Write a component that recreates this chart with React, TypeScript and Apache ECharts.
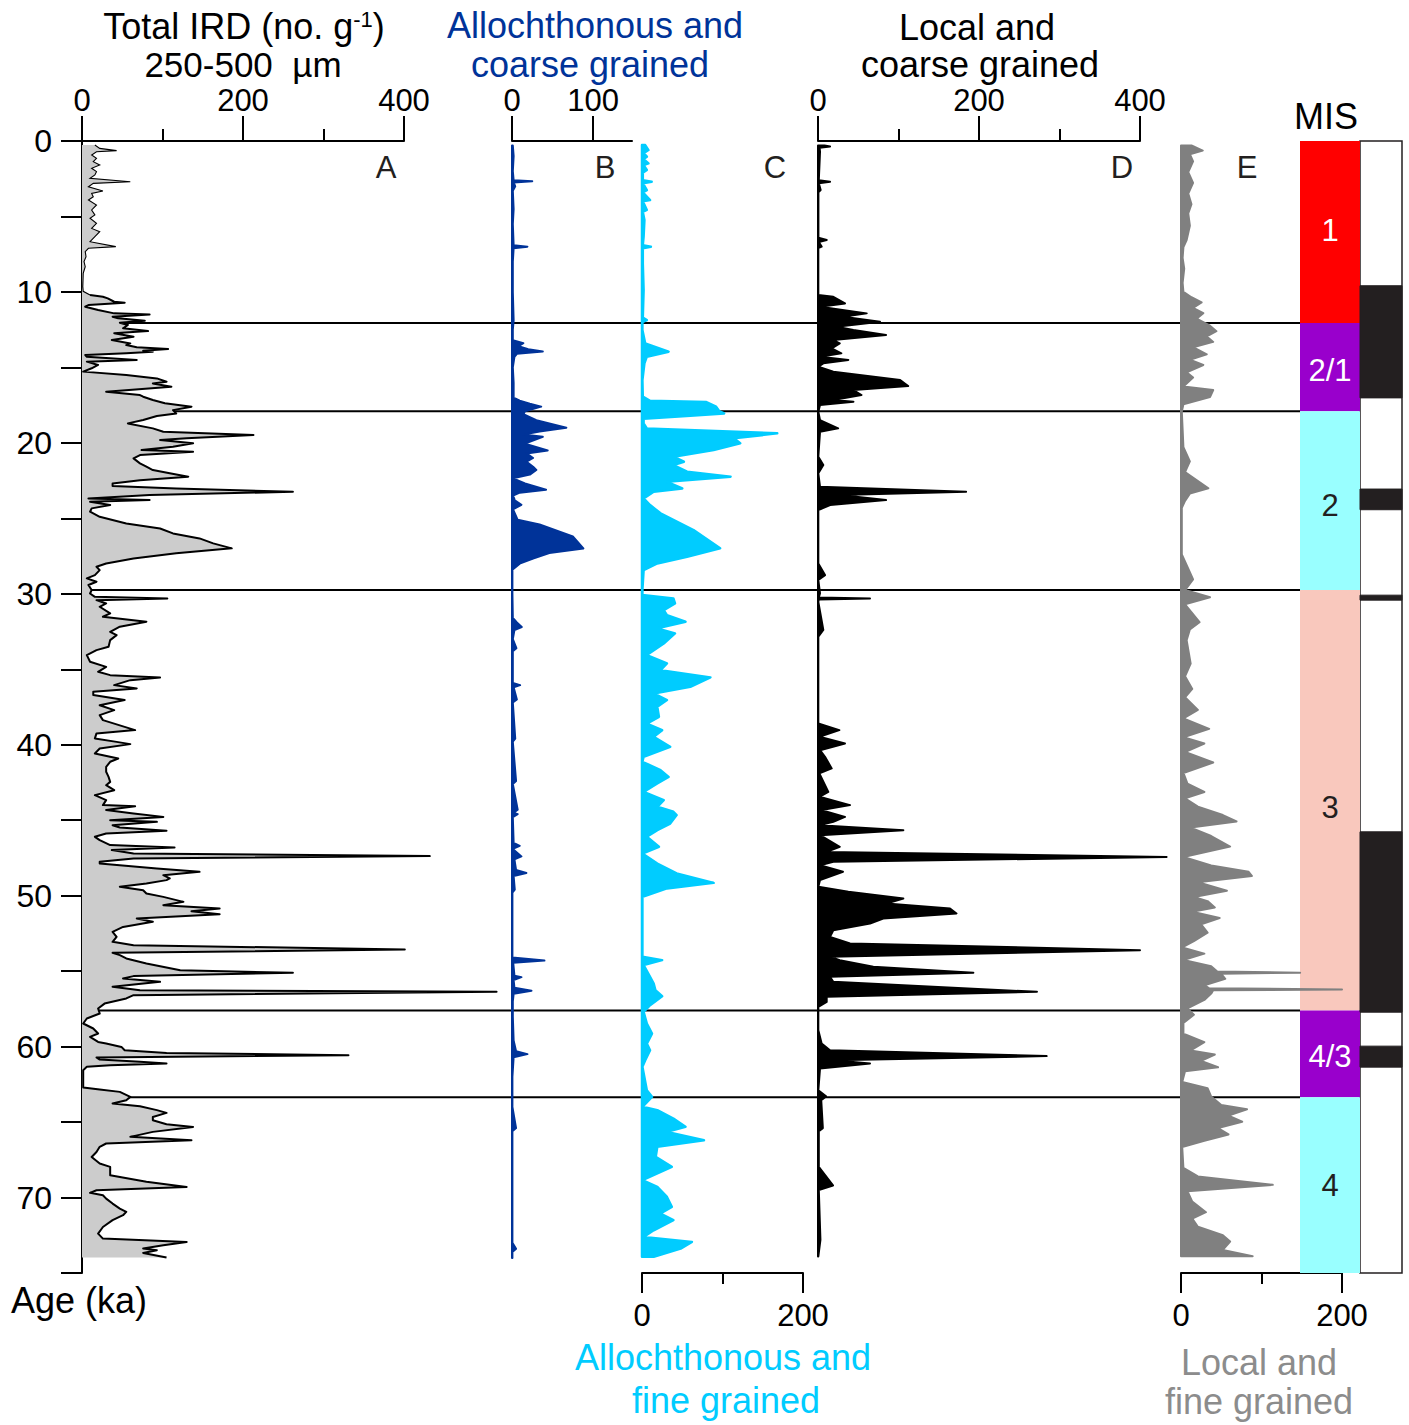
import React, { useEffect, useRef } from 'react';
import * as echarts from 'echarts';

const FONT = '"Liberation Sans", Arial, Helvetica, sans-serif';

// ---- Panel A: Total IRD (no. g-1), 250-500 µm ----
const ageA = [0.27,0.49,0.64,0.71,0.93,1.15,1.37,1.59,1.81,2.03,2.25,2.47,2.70,2.81,3.03,3.31,3.47,3.69,3.91,4.24,4.57,4.90,5.12,5.46,5.79,6.01,6.34,6.67,7.00,7.11,7.33,7.66,7.99,8.33,8.77,9.65,9.96,10.21,10.32,10.43,10.65,10.71,10.87,10.98,11.20,11.42,11.49,11.64,11.75,11.91,12.04,12.19,12.41,12.59,12.74,12.97,13.19,13.41,13.52,13.67,13.78,13.89,13.96,14.07,14.18,14.29,14.51,14.62,14.84,15.06,15.28,15.51,15.73,15.95,16.06,16.28,16.61,16.83,16.94,17.16,17.38,17.60,17.83,18.05,18.22,18.49,18.71,19.04,19.26,19.48,19.70,19.81,20.03,20.26,20.48,20.59,20.81,21.03,21.36,21.58,21.80,22.02,22.24,22.47,22.69,22.86,23.02,23.24,23.46,23.68,23.79,23.90,24.12,24.34,24.56,24.90,25.34,25.67,26.00,26.33,26.66,26.99,27.32,27.66,27.99,28.21,28.43,28.76,28.98,29.20,29.42,29.75,29.98,30.20,30.31,30.42,30.64,30.86,31.30,31.52,31.85,32.18,32.52,32.74,33.07,33.51,33.73,34.06,34.50,34.84,35.17,35.39,35.54,35.72,36.05,36.27,36.49,36.71,37.04,37.38,37.71,38.04,38.37,39.03,39.25,39.58,39.81,39.96,40.25,40.58,40.91,41.13,41.46,41.79,42.13,42.46,42.68,43.01,43.34,43.67,44.00,44.07,44.33,44.55,44.78,45.00,45.11,45.33,45.48,45.70,45.88,46.10,46.32,46.65,46.81,46.98,47.21,47.38,47.54,47.76,47.87,48.20,48.42,48.64,48.86,48.97,49.19,49.41,49.64,49.86,50.08,50.41,50.63,50.85,51.03,51.23,51.51,51.73,52.07,52.40,52.73,53.06,53.28,53.57,53.79,53.94,54.16,54.50,54.94,55.11,55.33,55.49,55.71,56.04,56.26,56.37,56.59,56.81,57.15,57.48,57.81,58.14,58.47,58.80,59.13,59.36,59.69,59.80,60.02,60.24,60.42,60.57,60.72,60.86,61.01,61.12,61.23,61.34,61.56,62.23,62.71,62.85,63.00,63.33,63.55,63.77,63.95,64.21,64.39,64.66,64.88,65.14,65.32,65.65,65.98,66.20,66.42,66.64,66.98,67.31,67.75,67.97,68.52,68.96,69.30,69.52,69.69,69.85,70.07,70.40,70.73,70.95,71.17,71.50,71.95,72.39,72.72,72.94,73.16,73.38,73.49,73.67,73.98];
const valA = [16,22,43,18,12,18,14,22,12,18,16,10,60,14,8,26,12,14,8,18,12,16,10,18,12,22,16,10,42,8,4,5,2.5,4,1.5,1,1.5,10,26,32,40,53,8,4,20,40,84,38,45,78,47,57,51,82,40,64,37,60,55,68,107,76,88,55,4,6,68,6,20,12,1.5,55,93,105,88,111,30,72,76,88,103,136,113,117,93,76,57,88,101,213,130,97,138,113,74,138,72,64,72,80,88,109,132,72,38,38,117,262,84,8,84,10,35,12,10,22,55,97,113,146,163,186,117,64,30,18,22,16,6,18,8,12,10,16,106,18,30,22,35,26,80,47,35,43,35,33,18,6,10,30,20,35,97,60,40,68,14,14,53,22,40,22,26,66,18,16,43,60,22,16,45,35,30,30,33,35,30,40,16,30,26,66,30,64,101,35,93,38,47,105,30,16,22,35,115,37,64,432,64,22,22,93,146,101,109,105,80,47,76,80,101,126,101,171,136,171,68,88,51,38,43,38,64,401,38,47,55,80,122,262,64,51,97,38,72,515,64,55,28,20,22,6,1.5,14,20,10,20,30,49,53,105,331,18,22,72,105,35,6,1.5,1.5,1.5,22,47,60,55,38,72,93,105,88,88,105,138,88,60,136,30,22,18,12,22,35,35,80,130,18,10,26,30,38,47,55,51,38,26,20,26,130,101,76,93,76,105];

// ---- Panel B: allochthonous, coarse grained ----
const ageB = [0.3,1.0,2.0,2.6,2.67,2.75,3.0,3.3,4.5,5.5,6.9,7.0,7.1,8.0,10.0,11.9,12.5,13.2,13.4,13.6,13.8,13.95,14.1,14.3,15.0,16.0,17.0,17.2,17.4,17.6,17.9,18.1,18.5,19.0,19.25,19.45,19.6,20.05,20.5,20.7,21.0,21.25,21.58,21.8,22.1,22.35,22.69,23.1,23.3,23.5,23.8,24.1,24.4,25.1,25.4,26.2,27.0,27.3,27.66,28.0,28.4,30.0,31.6,31.9,32.2,32.4,33.0,33.6,33.8,35.9,36.05,36.2,37.0,37.2,38.0,39.6,39.8,42.4,42.6,44.3,44.5,44.6,44.8,46.5,46.7,46.9,47.4,47.6,48.3,48.5,48.7,49.6,49.8,54.1,54.3,54.45,55.3,55.4,55.6,56.1,56.3,56.5,57.0,58.0,59.6,60.3,60.5,60.7,62.0,64.0,65.4,65.6,73.0,73.4,73.6,74.0];
const valB = [1,2,1,2,25,2,4,1,2,1,2,19,2,1,1,2,1,1,14,8,20,38,6,3,1,2,2,9.5,22,36,16,14,30,67,34,14,38,16,44,18,26,18,26,30,22,1.3,16,42,9.5,1.3,3.4,11.6,1.3,7,34,75,88,46,26,9.5,0.5,0.5,1,6,12,3,1,5.4,1,1,10,2,6,1,2,4,1,5,1,7,2,7,1,2,9.5,1,11.6,3,5,17.7,2,3.4,0.5,0.5,40,1.5,3,11.6,2,3,24,2,1,1,2,5,19,2,0.5,0.5,5,0.5,0.5,5,0.5,0.5];

// ---- Panel C: allochthonous, fine grained ----
const ageC = [0.27,0.60,0.80,1.04,1.20,1.48,1.60,1.92,2.10,2.60,2.70,2.80,3.25,3.40,3.91,4.00,4.57,4.70,5.24,6.34,6.90,7.00,7.10,8.11,9.87,11.70,11.86,12.00,12.52,13.41,13.96,14.29,14.73,15.84,16.94,17.21,17.30,17.60,17.90,18.05,18.20,18.40,18.71,19.04,19.37,19.70,20.03,20.48,20.92,21.25,21.47,21.91,22.24,22.58,23.02,23.24,23.68,24.12,24.67,25.78,26.99,27.55,27.99,28.43,29.75,30.08,30.31,30.64,31.08,31.41,31.85,32.29,32.62,33.29,34.06,34.61,35.06,35.54,36.16,36.60,37.04,37.49,38.15,38.60,39.04,39.48,40.14,40.80,41.13,41.68,42.13,42.57,43.12,43.67,44.11,44.44,44.66,45.22,45.66,46.10,46.76,47.21,47.87,48.53,49.15,49.52,49.97,50.08,54.05,54.27,54.60,55.38,55.82,56.26,56.66,57.26,57.70,58.48,59.14,59.80,60.24,60.90,61.34,62.89,63.33,63.99,64.21,64.77,65.32,65.65,66.20,66.64,67.31,67.97,68.85,69.30,69.96,70.62,71.06,71.50,72.17,72.61,72.94,73.38,73.93];
const valC = [4,8,2,6,2,8,2,6,1,1,12,1,6,1,10,1,6,1,3,2,1,11,1,1,2,1,6,0.5,0.5,4,33,6,3,0.5,1,10,80,92,96,102,60,2,2,6,168,114,122,89,39,52,39,56,110,31,50,14.5,2,10,23,64,97,56,19,2,0.5,0.5,39,41,27,31,54,19,41,27,6,31,23,85,60,14.5,31,19,21,6,25,14.5,35,2,0.5,23,33,19,2,27,19,39,43,35,19,6,21,0.5,19,43,89,31,6,0.5,0.5,25,2,10,14.5,16.6,25,10,2,6,12.4,6,10,4,0.5,6,12.4,0.5,19,39,54,31,77,19,17,37,0.5,19,31,37,23,39,14.5,2,62,48,14.5];

// ---- Panel D: local, coarse grained ----
const ageD = [0.30,0.37,0.45,0.71,2.60,2.70,2.80,3.25,3.40,6.40,6.56,6.70,7.00,7.10,8.11,10.21,10.32,10.76,10.98,11.42,11.64,11.97,12.30,12.52,12.86,13.19,13.41,13.74,14.07,14.29,14.51,14.73,14.95,15.28,15.84,16.24,16.50,16.83,17.16,17.27,17.49,17.94,18.49,19.04,19.26,20.92,21.47,22.02,22.91,23.24,23.46,23.79,24.12,24.45,27.99,28.76,29.09,29.97,30.25,30.31,30.37,30.53,32.40,32.84,38.59,39.03,39.47,39.92,40.36,40.80,41.57,41.90,43.12,43.45,44.00,44.33,44.78,45.11,45.33,45.66,45.99,46.76,47.10,47.43,47.76,47.98,48.42,48.97,49.41,49.74,50.19,50.52,50.85,51.18,51.51,51.85,52.29,52.73,53.17,53.61,54.05,54.27,54.71,55.11,55.38,55.71,56.37,56.70,57.04,57.37,58.91,59.80,60.24,60.63,60.90,61.12,61.45,62.90,63.30,63.55,65.40,65.60,67.97,69.20,69.50,72.80,73.90];
const valD = [8,15,2,2.5,1,15,1,3.3,0.5,0.5,10.8,1,4.5,0.4,0.4,0.4,19,33.5,2.5,60.5,31,77,23,44,84.5,19,27,17,29,2.5,37.7,6.6,0.4,19,102,112,44,54,19,44,2.5,0.4,2.5,25,2.5,0.4,6.6,0.4,2.5,184,27,84.5,15,0.4,0.4,8.7,0.4,2.5,1,64.6,1,0.4,6.6,0.4,0.4,26.5,1.7,33.5,2.5,8.7,17,1.7,12.8,1.7,39.8,4.5,33.5,19,1.7,106,2.5,27,10.8,433,19,2.5,31,2.5,0.4,37.7,106,85,164,172,81,64.6,19,14.9,39.8,400,14.9,27,68.7,193,14.9,19,272,10.8,10.8,0.4,0.4,4.5,14.9,284,19,64.6,2.5,0.4,10,4,6,1,1,18.6,1,3,0.4];

// ---- Panel E: local, fine grained ----
const ageE = [0.29,0.64,0.88,1.35,2.06,2.77,3.48,4.19,4.79,5.61,6.56,7.03,7.74,8.45,9.40,9.99,10.35,10.70,11.06,11.41,11.77,12.24,12.60,12.95,13.31,13.66,14.13,14.49,14.84,15.32,15.67,16.26,16.50,16.97,17.45,17.92,19.10,20.29,21.23,21.94,23.01,23.36,23.84,24.31,27.39,28.33,29.05,29.75,30.23,30.70,31.88,32.36,33.07,34.63,35.47,36.30,36.86,37.69,38.25,38.95,39.50,39.92,40.48,41.18,41.87,42.57,43.13,43.55,44.10,44.66,45.08,45.49,46.05,46.75,47.44,48.00,48.42,48.69,49.11,49.67,50.09,50.36,50.78,51.06,51.48,51.90,52.45,53.01,53.43,53.84,54.26,54.68,55.02,55.10,55.18,55.51,55.93,56.14,56.21,56.27,56.49,56.91,57.47,57.89,58.44,59.14,59.70,60.25,60.53,60.95,61.37,61.64,62.34,62.76,63.31,63.87,64.15,64.57,64.98,65.40,65.82,66.24,66.65,68.04,68.60,69.16,69.58,70.27,70.97,71.39,71.94,72.50,72.92,73.47,73.89];
const valE = [13,27,11,15,9,15,9,13,9,11,7,3,2,4,2,3,13,25.6,15,27.7,19.4,36,44,32,40,15,32,11,27.7,7,15,3,40,36,3,1,2,3,11,5,34,11,5,1,1,9,15,5,36,5,23,11,7,12,5,14,5,21,3,35,3,29,5,40,3,8,29,5,21,52,69,12,37.5,61,3,37.5,84,88,21,57,16,33,42,14,48,25,33,16,1.5,29,3,37.5,45,148,50,55,29,35,200,40,37.5,29,8,16,3,3,29,12,42,25,46,5,1.5,33,37.5,50,82,59,76,46,59,29,1.5,3,21,114,8,14,31,14,21,52,61,52,89];

// ---- Marine isotope stages ----
const misStart = [0, 12.06, 17.9, 29.75, 57.6, 63.35];
const misEnd = [12.06, 17.9, 29.75, 57.6, 63.35, 75];
const misLabel = ['1', '2/1', '2', '3', '4/3', '4'];
const misLabelAge = [5.9, 15.18, 24.12, 44.13, 60.63, 69.18];
const misColor = ['#ff0000', '#9900cc', '#99ffff', '#f9c8bd', '#9900cc', '#99ffff'];
const misTextColor = ['#ffffff', '#ffffff', '#231f20', '#231f20', '#ffffff', '#231f20'];
const boundaries = [12.06, 17.9, 29.75, 57.6, 63.35];
const barStart = [9.59, 23.06, 30.09, 45.77, 59.97];
const barEnd = [17.02, 24.43, 30.42, 57.72, 61.36];

const TOP = 141;
const H = 1132;

function gridAt(left: number, width: number, extra: any = {}) {
  return { left, top: TOP, width, height: H, containLabel: false, outerBoundsMode: 'none', ...extra };
}

function hiddenY(gridIndex: number) {
  return { type: 'value', gridIndex, min: 0, max: 75, inverse: true, show: false };
}

function hiddenX(gridIndex: number) {
  return { type: 'value', gridIndex, min: 0, max: 1, show: false };
}

function valueX(gridIndex: number, pos: 'top' | 'bottom', max: number, interval: number, minor: boolean, custom?: number[]) {
  const top = pos === 'top';
  return {
    type: 'value',
    gridIndex,
    position: pos,
    min: 0,
    max,
    interval,
    axisLine: { show: true, onZero: false, lineStyle: { color: '#000', width: 2 } },
    axisTick: { show: true, inside: false, length: top ? 25 : 20, lineStyle: { color: '#000', width: 2 }, ...(custom ? { customValues: custom } : {}) },
    minorTick: { show: minor, splitNumber: 2, length: top ? 12 : 11, lineStyle: { color: '#000', width: 2 } },
    axisLabel: {
      show: true,
      fontSize: 31,
      fontFamily: FONT,
      color: '#000',
      margin: top ? 25 : 27,
      ...(custom ? { customValues: custom } : {}),
      formatter: (v: number) => (custom && custom.indexOf(v) < 0 ? '' : String(v)),
    },
    splitLine: { show: false },
    minorSplitLine: { show: false },
  };
}

function profileSeries(grid: number, ages: number[], vals: number[], fill: string, stroke: string, lw: number, z: number) {
  const data = ages.map((a, i) => [vals[i], a]);
  return {
    type: 'custom',
    coordinateSystem: 'cartesian2d',
    xAxisIndex: grid,
    yAxisIndex: grid,
    data,
    z,
    silent: true,
    clip: false,
    renderItem: (params: any, api: any) => {
      if (params.dataIndex !== 0) return null;
      const pts = data.map((d) => api.coord(d));
      const b0 = api.coord([0, ages[0]]);
      const b1 = api.coord([0, ages[ages.length - 1]]);
      return {
        type: 'polygon',
        shape: { points: [b0, ...pts, b1] },
        style: { fill, stroke, lineWidth: lw, lineJoin: 'round' },
      };
    },
  };
}

function totalSeries() {
  const data = ageA.map((a, i) => [valA[i], a]);
  const split = ageA.findIndex((a) => a >= 10.2);
  return {
    type: 'custom',
    coordinateSystem: 'cartesian2d',
    xAxisIndex: 0,
    yAxisIndex: 0,
    data,
    z: 3,
    silent: true,
    clip: false,
    renderItem: (params: any, api: any) => {
      if (params.dataIndex !== 0) return null;
      const pts = data.map((d) => api.coord(d));
      const b0 = api.coord([0, ageA[0]]);
      const b1 = api.coord([0, ageA[ageA.length - 1]]);
      return {
        type: 'group',
        children: [
          { type: 'polygon', shape: { points: [b0, ...pts, b1] }, style: { fill: '#cccccc', stroke: 'none' } },
          { type: 'polyline', shape: { points: pts.slice(0, split + 1) }, style: { fill: 'none', stroke: '#000', lineWidth: 1.1 } },
          { type: 'polyline', shape: { points: pts.slice(split) }, style: { fill: 'none', stroke: '#000', lineWidth: 2, lineJoin: 'round' } },
        ],
      };
    },
  };
}

function txt(text: string, x: number, y: number, fontSize: number, color: string, extra: any = {}) {
  return {
    type: 'text',
    x,
    y,
    z: 10,
    silent: true,
    style: {
      text,
      fill: color,
      fontSize,
      fontFamily: FONT,
      align: 'center',
      verticalAlign: 'middle',
      textAlign: 'center',
      textVerticalAlign: 'middle',
      ...extra,
    },
  };
}

export default function App() {
  const ref = useRef<HTMLDivElement>(null);
  useEffect(() => {
    document.body.style.margin = '0';
    document.body.style.overflow = 'hidden';
    const chart = echarts.init(ref.current!, null, { renderer: 'svg' });
    const option: any = {
      animation: false,
      backgroundColor: '#ffffff',
      grid: [
        gridAt(82, 322), // 0 A
        gridAt(512, 120), // 1 B
        gridAt(642, 161), // 2 C
        gridAt(818, 322), // 3 D
        gridAt(1181, 161), // 4 E
        gridAt(82, 1218), // 5 horizontal lines
        gridAt(1300, 60), // 6 MIS
        gridAt(1360, 42, { show: true, backgroundColor: '#ffffff', borderColor: '#231f20', borderWidth: 1.5 }), // 7 bar
      ],
      xAxis: [
        valueX(0, 'top', 400, 200, true),
        valueX(1, 'top', 148, 100, false, [0, 100]),
        valueX(2, 'bottom', 200, 200, true),
        valueX(3, 'top', 400, 200, true),
        valueX(4, 'bottom', 200, 200, true),
        hiddenX(5),
        hiddenX(6),
        hiddenX(7),
      ],
      yAxis: [
        {
          type: 'value',
          gridIndex: 0,
          min: 0,
          max: 75,
          interval: 5,
          inverse: true,
          axisLine: { show: true, onZero: false, lineStyle: { color: '#000', width: 2 } },
          axisTick: { show: true, inside: false, length: 21, lineStyle: { color: '#000', width: 2 } },
          axisLabel: {
            fontSize: 32,
            fontFamily: FONT,
            color: '#000',
            margin: 30,
            formatter: (v: number) => (v % 10 === 0 ? String(v) : ''),
          },
          splitLine: { show: false },
        },
        hiddenY(1),
        hiddenY(2),
        hiddenY(3),
        hiddenY(4),
        hiddenY(5),
        hiddenY(6),
        hiddenY(7),
      ],
      series: [
        {
          type: 'custom',
          coordinateSystem: 'cartesian2d',
          xAxisIndex: 5,
          yAxisIndex: 5,
          z: 1,
          silent: true,
          data: boundaries.map((b) => [0, b]),
          renderItem: (params: any, api: any) => {
            const b = boundaries[params.dataIndex];
            const p0 = api.coord([0, b]);
            const p1 = api.coord([1, b]);
            return { type: 'line', shape: { x1: p0[0], y1: p0[1], x2: p1[0], y2: p1[1] }, style: { stroke: '#000', lineWidth: 2 } };
          },
        },
        {
          type: 'custom',
          coordinateSystem: 'cartesian2d',
          xAxisIndex: 6,
          yAxisIndex: 6,
          z: 2,
          silent: true,
          data: misStart.map((s, i) => [0.5, misLabelAge[i]]),
          renderItem: (params: any, api: any) => {
            const i = params.dataIndex;
            const p0 = api.coord([0, misStart[i]]);
            const p1 = api.coord([1, misEnd[i]]);
            const pl = api.coord([0.5, misLabelAge[i]]);
            return {
              type: 'group',
              children: [
                { type: 'rect', shape: { x: p0[0], y: p0[1], width: p1[0] - p0[0], height: p1[1] - p0[1] }, style: { fill: misColor[i] } },
                {
                  type: 'text',
                  x: pl[0],
                  y: pl[1],
                  style: {
                    text: misLabel[i],
                    fill: misTextColor[i],
                    fontSize: 31,
                    fontFamily: FONT,
                    align: 'center',
                    verticalAlign: 'middle',
                    textAlign: 'center',
                    textVerticalAlign: 'middle',
                  },
                },
              ],
            };
          },
        },
        {
          type: 'custom',
          coordinateSystem: 'cartesian2d',
          xAxisIndex: 7,
          yAxisIndex: 7,
          z: 2,
          silent: true,
          data: barStart.map((s, i) => [0.5, (s + barEnd[i]) / 2]),
          renderItem: (params: any, api: any) => {
            const i = params.dataIndex;
            const p0 = api.coord([0, barStart[i]]);
            const p1 = api.coord([1, barEnd[i]]);
            return {
              type: 'rect',
              shape: { x: p0[0], y: p0[1], width: p1[0] - p0[0], height: p1[1] - p0[1] },
              style: { fill: '#231f20', stroke: '#231f20', lineWidth: 1 },
            };
          },
        },
        totalSeries(),
        profileSeries(1, ageB, valB, '#003399', '#003399', 2, 3),
        profileSeries(2, ageC, valC, '#00ccff', '#00ccff', 2.5, 3),
        profileSeries(3, ageD, valD, '#000000', '#000000', 2, 3),
        profileSeries(4, ageE, valE, '#808080', '#808080', 2, 4),
      ],
      graphic: [
        txt('Total IRD (no. g{s|-1})', 244, 26, 36, '#000', {
          rich: { s: { fontSize: 22, lineHeight: 16, verticalAlign: 'top', fontFamily: FONT, fill: '#000' } },
        }),
        txt('250-500  µm', 243, 64, 35, '#000'),
        txt('Allochthonous and', 595, 25, 36, '#003399'),
        txt('coarse grained', 590, 64, 36, '#003399'),
        txt('Local and', 977, 27, 36, '#000'),
        txt('coarse grained', 980, 64, 36, '#000'),
        txt('MIS', 1326, 116, 36, '#000'),
        txt('Age (ka)', 79, 1300, 36, '#000'),
        txt('Allochthonous and', 723, 1357, 36, '#00ccff'),
        txt('fine grained', 726, 1400, 36, '#00ccff'),
        txt('Local and', 1259, 1362, 36, '#8c8c8c'),
        txt('fine grained', 1259, 1401, 36, '#8c8c8c'),
        txt('A', 386, 167, 31, '#231f20'),
        txt('B', 605, 167, 31, '#231f20'),
        txt('C', 775, 167, 31, '#231f20'),
        txt('D', 1122, 167, 31, '#231f20'),
        txt('E', 1247, 167, 31, '#231f20'),
      ],
    };
    chart.setOption(option);
    return () => chart.dispose();
  }, []);
  return <div ref={ref} style={{ width: 1409, height: 1425 }} />;
}
